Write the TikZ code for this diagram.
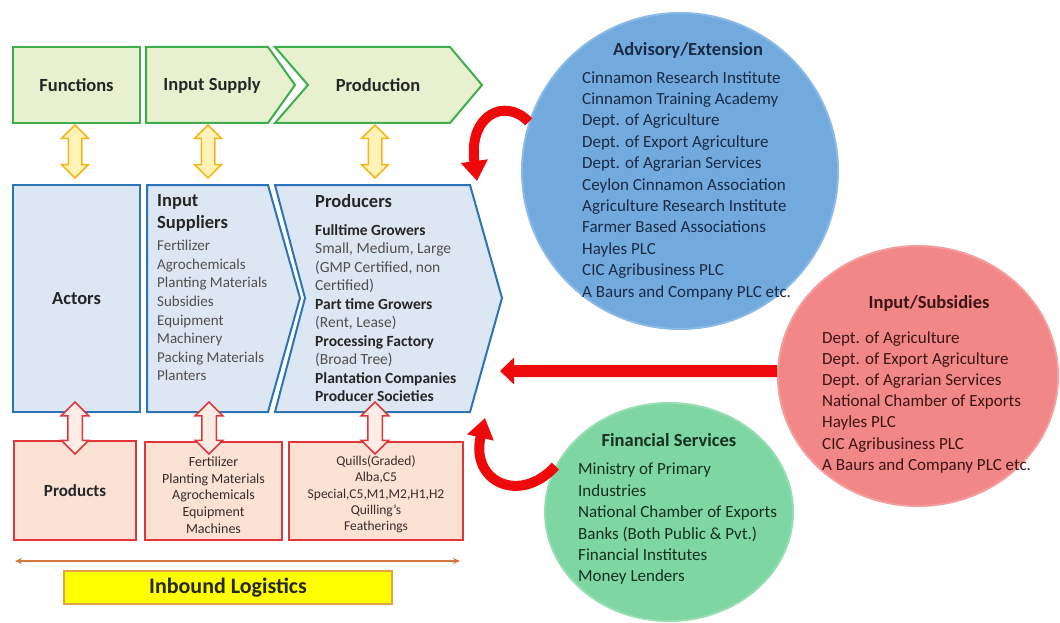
\documentclass[tikz,border=0pt]{standalone}
\usepackage{fontspec}
\setmainfont{Carlito}
\usetikzlibrary{arrows.meta,shapes.arrows,shapes.geometric}
\definecolor{gfill}{HTML}{E8F1CF}
\definecolor{gline}{HTML}{3DAE4B}
\definecolor{bfill}{HTML}{DCE7F3}
\definecolor{bline}{HTML}{2B74B5}
\definecolor{rfill}{HTML}{FBE2D5}
\definecolor{rline}{HTML}{E0363A}
\definecolor{rpale}{HTML}{FDEDE6}
\definecolor{yfill}{HTML}{FFF3B8}
\definecolor{yline}{HTML}{F5B619}
\definecolor{oline}{HTML}{D4773A}
\definecolor{logfill}{HTML}{FFFF00}
\definecolor{logline}{HTML}{E3A345}
\definecolor{advfill}{HTML}{72AADD}
\definecolor{advline}{HTML}{8BBBE4}
\definecolor{subfill}{HTML}{F28787}
\definecolor{subline}{HTML}{F49D9D}
\definecolor{finfill}{HTML}{7ED6A2}
\definecolor{finline}{HTML}{95DEB3}
\definecolor{txt}{HTML}{262626}
\definecolor{gtxt}{HTML}{505050}
\definecolor{rtxt}{HTML}{3A2A2A}
\definecolor{advtxt}{HTML}{1B2A45}
\definecolor{subtxt}{HTML}{3B1515}
\definecolor{fintxt}{HTML}{15301F}
\definecolor{redarr}{HTML}{EE0A0A}
\tikzset{fnbox/.style={draw=gline,fill=gfill,line width=2pt}}
\tikzset{actbox/.style={draw=bline,fill=bfill,line width=2pt}}
\tikzset{prodbox/.style={draw=rline,fill=rfill,line width=2pt}}
\tikzset{prodtxt/.style={text=rtxt,align=center,font=\fontsize{14}{16.8}\selectfont}}
\tikzset{hd/.style={font=\bfseries\fontsize{18.5}{22}\selectfont,text=txt}}
\tikzset{lst/.style={anchor=north west,inner sep=0pt,align=left}}
\tikzset{circ/.style={ellipse,line width=2pt,inner sep=0pt}}
\tikzset{yarr/.style={double arrow,rotate=90,draw=yline,fill=yfill,line width=1.5pt,inner sep=6pt,double arrow head extend=6.5pt,minimum height=53pt}}
\tikzset{rarr/.style={yarr,draw=rline,fill=rpale,inner sep=6.5pt,minimum height=52pt}}
\tikzset{bigred/.style={draw=redarr,line width=10pt,-{Triangle[width=26pt,length=20pt]}}}

\begin{document}
\begin{tikzpicture}[x=1pt,y=-1pt]
\fill[white] (0,0) rectangle (1060,623);
\useasboundingbox (0,0) rectangle (1060,623);

\node (func) at (76.5,85) [fnbox,minimum width=127pt,minimum height=76pt,hd] {Functions};
\draw[fnbox] (146,47)--(268,47)--(295,85)--(268,123)--(146,123)--cycle;
\node (insup) at (212,85) [hd] {Input Supply};
\draw[fnbox] (275,47)--(450,47)--(482,85)--(450,123)--(275,123)--(308,85)--cycle;
\node (prodn) at (378,85) [hd] {Production};

\node (actors) at (76.5,298.5) [actbox,minimum width=127pt,minimum height=227pt,hd] {Actors};
\draw[actbox] (147,185)--(268,185)--(300,298)--(268,412)--(147,412)--cycle;
\node (insh) at (157,194) [lst,hd,font=\bfseries\fontsize{18.5}{22}\selectfont] {Input\\Suppliers};
\node (insl) at (157,240) [lst,text=gtxt,font=\fontsize{15}{18.6}\selectfont] {Fertilizer\\Agrochemicals\\Planting Materials\\Subsidies\\Equipment\\Machinery\\Packing Materials\\Planters};
\draw[actbox] (275,185)--(470,185)--(502,298)--(470,412)--(275,412)--(305,298)--cycle;
\node (prodh) at (315,201) [anchor=west,inner sep=0pt,hd] {Producers};
\node (prodl) at (315,224) [lst,text=gtxt,font=\fontsize{15.5}{18.5}\selectfont] {\textbf{\color{txt}Fulltime Growers}\\Small, Medium, Large\\(GMP Certified, non\\Certified)\\\textbf{\color{txt}Part time Growers}\\(Rent, Lease)\\\textbf{\color{txt}Processing Factory}\\(Broad Tree)\\\textbf{\color{txt}Plantation Companies}\\\textbf{\color{txt}Producer Societies}};

\node (prod) at (75,490.5) [prodbox,minimum width=122pt,minimum height=99pt,hd,font=\bfseries\fontsize{17}{20}\selectfont] {Products};
\node (inputs) at (213.5,491) [prodbox,minimum width=137pt,minimum height=98pt] {};
\node (inputst) at (213.5,495) [prodtxt] {Fertilizer\\Planting Materials\\Agrochemicals\\Equipment\\Machines};
\node (quills) at (376,491) [prodbox,minimum width=174pt,minimum height=98pt] {};
\node (quillst) at (376,494.5) [prodtxt,font=\fontsize{13.5}{16.3}\selectfont] {Quills(Graded)\\Alba,C5\\Special,C5,M1,M2,H1,H2\\Quilling's\\Featherings};

\node (ya1) at (75,151.5) [yarr] {};
\node (ya2) at (208,151.5) [yarr] {};
\node (ya3) at (375,151.5) [yarr] {};
\node (ra1) at (75,428) [rarr] {};
\node (ra2) at (209,428) [rarr] {};
\node (ra3) at (375,428) [rarr] {};

\coordinate (lgl) at (15,561);
\coordinate (lgr) at (460,561);
\draw[oline,line width=1.5pt,{Stealth[length=7pt,width=6pt]}-{Stealth[length=7pt,width=6pt]}] (lgl)--(lgr);
\node (logis) at (228,587.5) [draw=logline,fill=logfill,line width=1.5pt,minimum width=328pt,minimum height=33pt,hd,font=\bfseries\fontsize{22}{24}\selectfont] {Inbound Logistics};

\node (adv) at (680,171) [circ,draw=advline,fill=advfill,minimum width=316pt,minimum height=316pt] {};
\node (advh) at (688,50) [hd,text=advtxt] {Advisory/Extension};
\node (advl) at (582,71) [lst,text=advtxt,font=\fontsize{17}{21.4}\selectfont] {Cinnamon Research Institute\\Cinnamon Training Academy\\Dept. of Agriculture\\Dept. of Export Agriculture\\Dept. of Agrarian Services\\Ceylon Cinnamon Association\\Agriculture Research Institute\\Farmer Based Associations\\Hayles PLC\\CIC Agribusiness PLC\\A Baurs and Company PLC etc.};

\node (sub) at (918,376) [circ,draw=subline,fill=subfill,minimum width=280pt,minimum height=260pt] {};
\node (subh) at (929,303) [hd,text=subtxt] {Input/Subsidies};
\node (subl) at (822,331) [lst,text=subtxt,font=\fontsize{17}{21.2}\selectfont] {Dept. of Agriculture\\Dept. of Export Agriculture\\Dept. of Agrarian Services\\National Chamber of Exports\\Hayles PLC\\CIC Agribusiness PLC\\A Baurs and Company PLC etc.};

\node (fin) at (669,512) [circ,draw=finline,fill=finfill,minimum width=248pt,minimum height=218pt] {};
\node (finh) at (669,440) [hd,text=fintxt] {Financial Services};
\node (finl) at (578,463) [lst,text=fintxt,font=\fontsize{17}{21.4}\selectfont] {Ministry of Primary\\Industries\\National Chamber of Exports\\Banks (Both Public \& Pvt.)\\Financial Institutes\\Money Lenders};

\coordinate (tipA) at (477,181);
\coordinate (tipB) at (500,371);
\coordinate (tipC) at (485,418);
\draw[bigred] (adv.162) .. controls (505,97) and (468,115) .. (tipA);
\draw[bigred,line width=12pt,-{Triangle[width=26pt,length=14pt]}] (sub.178) -- (tipB);
\draw[bigred] (fin.158) .. controls (520,505) and (470,482) .. (tipC);
\end{tikzpicture}
\end{document}
